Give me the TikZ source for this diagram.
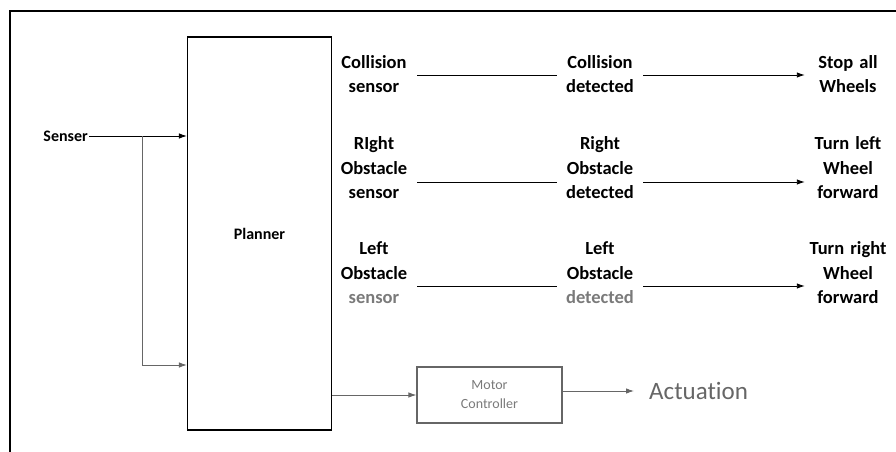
\documentclass[tikz,border=0pt]{standalone}
\usepackage{fontspec}
\setmainfont{Carlito}[Ligatures={NoCommon,NoRare}]
\usetikzlibrary{arrows.meta}
\definecolor{fade}{HTML}{666666}
\definecolor{fadetext}{HTML}{7A7A7A}
\tikzset{
  every node/.style={inner sep=1pt, font=\fontsize{19}{24.5}\selectfont},
  coltext/.style={text width=84pt, align=center, font=\bfseries\fontsize{18.5}{24.5}\selectfont},
  blockbox/.style={draw, line width=1.2pt},
  conn/.style={line width=0.9pt},
  arr/.style={conn, -{Latex[length=8pt,width=5.5pt]}},
}
\begin{document}
\begin{tikzpicture}[x=1pt,y=-1pt]
\useasboundingbox (0,0) rectangle (896,452);
% outer frame
\draw[line width=1.2pt] (896,11) -- (10,11) -- (10,452);

% planner and sensor input
\node[blockbox, minimum width=144pt, minimum height=393pt, font=\bfseries\fontsize{16}{20}\selectfont] (planner) at (259.5,233.5) {Planner};
\node[font=\bfseries\fontsize{16}{20}\selectfont, anchor=east] (senser) at (89,136) {Senser};
\coordinate (br) at (142,136);
\coordinate (low) at (0,365);
\draw[arr] (senser.east) -- (senser.east -| planner.west);
\draw[arr, fade] (br) |- (planner.west |- low);

% motor controller
\node[draw, fade, line width=1.1pt, minimum width=145pt, minimum height=56pt, align=center,
      text=fadetext, font=\fontsize{14}{19}\selectfont] (motor) at (489.5,395) {Motor\\Controller};
\node[anchor=west, text=fade, font=\fontsize{25}{30}\selectfont] (act) at (648,391) {Actuation};
\draw[arr, fade] (planner.east |- motor.west) -- (motor.west);
\draw[arr, fade, shorten >=14pt] (motor.east |- act.west) -- (act.west);

% row 1
\node[coltext] (c1r1) at (374,74) {Collision\\sensor};
\node[coltext] (c2r1) at (600,74) {Collision\\detected};
\node[coltext] (c3r1) at (848,74) {Stop all\\Wheels};
\coordinate (l1) at (0,75);
\draw[conn] (c1r1.east |- l1) -- (c2r1.west |- l1);
\draw[arr] (c2r1.east |- l1) -- (c3r1.west |- l1);

% row 2
\node[coltext] (c1r2) at (374,168) {RIght\\Obstacle\\sensor};
\node[coltext] (c2r2) at (600,168) {Right\\Obstacle\\detected};
\node[coltext] (c3r2) at (848,168) {Turn left\\Wheel\\forward};
\coordinate (l2) at (0,182);
\draw[conn] (c1r2.east |- l2) -- (c2r2.west |- l2);
\draw[arr] (c2r2.east |- l2) -- (c3r2.west |- l2);

% row 3
\node[coltext] (c1r3) at (374,273) {Left\\Obstacle\\\textcolor{fadetext}{sensor}};
\node[coltext] (c2r3) at (600,273) {Left\\Obstacle\\\textcolor{fadetext}{detected}};
\node[coltext] (c3r3) at (848,273) {Turn right\\Wheel\\forward};
\coordinate (l3) at (0,286);
\draw[conn] (c1r3.east |- l3) -- (c2r3.west |- l3);
\draw[arr] (c2r3.east |- l3) -- (c3r3.west |- l3);
\end{tikzpicture}
\end{document}
